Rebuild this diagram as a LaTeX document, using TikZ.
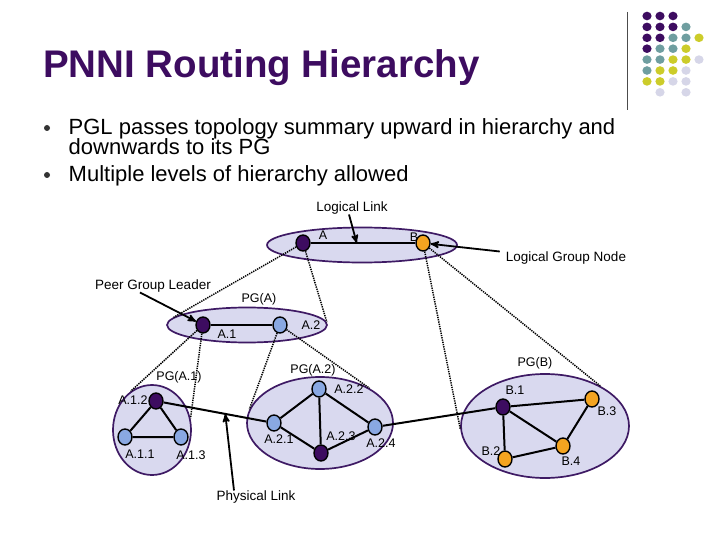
\documentclass[tikz,border=0pt]{standalone}
\usepackage{fontspec}
\setmainfont{Liberation Sans}
\usetikzlibrary{shapes.geometric,arrows,positioning}
\definecolor{pnnipurple}{HTML}{3D0C60}
\definecolor{pnniborder}{HTML}{3E1A64}
\definecolor{pnnilav}{HTML}{D9D9EF}
\definecolor{pnniblue}{HTML}{89A8E2}
\definecolor{pnniorange}{HTML}{F4A420}
\definecolor{pnniteal}{HTML}{6F9EA0}
\definecolor{pnniyellow}{HTML}{CCCC2A}
\definecolor{pnnilight}{HTML}{D6D6E8}
\tikzset
{
    groupnode/.style = {ellipse, draw=pnniborder, fill=pnnilav, line width=1.7pt, inner sep=0pt},
    switchnode/.style = {ellipse, draw=black, line width=1.4pt, minimum width=14pt, minimum height=16pt, inner sep=0pt},
    leadernode/.style = {switchnode, fill=pnnipurple},
    bluenode/.style = {switchnode, fill=pnniblue},
    orangenode/.style = {switchnode, fill=pnniorange},
    lbl/.style = {font=\fontsize{12.5}{14}\selectfont, inner sep=0pt},
    note/.style = {font=\fontsize{13.5}{15}\selectfont, inner sep=0pt},
    link/.style = {line width=2pt},
    hier/.style = {line width=1.5pt, dash pattern=on 1.3pt off 1pt},
    pointer/.style = {->, >=stealth', line width=1.8pt}
}
\begin{document}
\begin{tikzpicture}[x=1pt, y=-1pt]
    \useasboundingbox (0,0) rectangle (720,540);
    % header
    \node [anchor=base west, inner sep=0pt, text=pnnipurple, font=\fontsize{38.5}{40}\selectfont\bfseries] (title) at (43,78) {PNNI Routing Hierarchy};
    \draw [line width=0.8pt, black!70] (627,12) -- (627,110);
    \foreach \c/\r/\col in {0/0/pnnipurple, 1/0/pnnipurple, 2/0/pnnipurple,
        0/1/pnnipurple, 1/1/pnnipurple, 2/1/pnnipurple, 3/1/pnniteal,
        0/2/pnnipurple, 1/2/pnnipurple, 2/2/pnniteal, 3/2/pnniteal, 4/2/pnniyellow,
        0/3/pnnipurple, 1/3/pnniteal, 2/3/pnniteal, 3/3/pnniyellow,
        0/4/pnniteal, 1/4/pnniteal, 2/4/pnniyellow, 3/4/pnniyellow, 4/4/pnnilight,
        0/5/pnniteal, 1/5/pnniyellow, 2/5/pnniyellow, 3/5/pnnilight,
        0/6/pnniyellow, 1/6/pnniyellow, 2/6/pnnilight, 3/6/pnnilight,
        1/7/pnnilight, 3/7/pnnilight}
        \fill [\col] (647+13*\c, 16+10.9*\r) ellipse (4.6 and 4.3);
    \fill [black!80] (47,128) circle (3);
    \fill [black!80] (47,175) circle (3);
    \node [anchor=base west, inner sep=0pt, font=\fontsize{22}{22}\selectfont] (item1a) at (68.5,135) {PGL passes topology summary upward in hierarchy and};
    \node [anchor=base west, inner sep=0pt, font=\fontsize{22}{22}\selectfont] (item1b) at (68.5,155) {downwards to its PG};
    \node [anchor=base west, inner sep=0pt, font=\fontsize{22}{22}\selectfont] (item2) at (68.5,182) {Multiple levels of hierarchy allowed};
    % peer groups
    \node [groupnode, minimum width=190pt, minimum height=35pt] (pgtop) at (362,245) {};
    \node [groupnode, minimum width=160pt, minimum height=35pt] (pga) at (247,325) {};
    \node [groupnode, minimum width=78pt, minimum height=90pt] (pga1) at (152,430) {};
    \node [groupnode, minimum width=146pt, minimum height=92pt] (pga2) at (320,423) {};
    \node [groupnode, minimum width=168pt, minimum height=104pt] (pgb) at (545,426) {};
    % switches
    \node [leadernode] (a) at (303,243) {};
    \node [orangenode] (b) at (423,243) {};
    \node [leadernode] (a1) at (203,325) {};
    \node [bluenode] (a2) at (280,325) {};
    \node [leadernode] (a12) at (156,401) {};
    \node [bluenode] (a11) at (125,437) {};
    \node [bluenode] (a13) at (181,437) {};
    \node [bluenode] (a22) at (319,389) {};
    \node [bluenode] (a21) at (274,423) {};
    \node [leadernode] (a23) at (321,453) {};
    \node [bluenode] (a24) at (375,427) {};
    \node [leadernode] (b1) at (503,407) {};
    \node [orangenode] (b3) at (592,399) {};
    \node [orangenode] (b2) at (505,459) {};
    \node [orangenode] (b4) at (563,446) {};
    % labels
    \node [lbl] (la) at (323,235) {A};
    \node [lbl] (lb) at (414,237) {B};
    \node [lbl] (lpga) at (259,299) {PG(A)};
    \node [lbl] (la1) at (227,334) {A.1};
    \node [lbl] (la2) at (311,325) {A.2};
    \node [lbl] (lpga1) at (179,377) {PG(A.1)};
    \node [lbl] (la12) at (133,400) {A.1.2};
    \node [lbl] (la11) at (140,454) {A.1.1};
    \node [lbl] (la13) at (191,455) {A.1.3};
    \node [lbl] (lpga2) at (313,370) {PG(A.2)};
    \node [lbl] (la22) at (349,389) {A.2.2};
    \node [lbl] (la21) at (279,439) {A.2.1};
    \node [lbl] (la23) at (341,436) {A.2.3};
    \node [lbl] (la24) at (381,443) {A.2.4};
    \node [lbl] (lpgb) at (535,363) {PG(B)};
    \node [lbl] (lb1) at (515,390) {B.1};
    \node [lbl] (lb3) at (607,411) {B.3};
    \node [lbl] (lb2) at (491,451) {B.2};
    \node [lbl] (lb4) at (571,461) {B.4};
    \node [note] (loglink) at (352,208) {Logical Link};
    \node [note] (lgn) at (566,258) {Logical Group Node};
    \node [note] (pgl) at (153,286) {Peer Group Leader};
    \node [note] (phl) at (256,497) {Physical Link};
    % hierarchy
    \draw [hier] (a) -- (pga.174);
    \draw [hier] (a) -- (pga.2);
    \draw [hier] (a1) -- (pga1.119);
    \draw [hier] (a1) -- (pga1.17);
    \draw [hier] (a2) -- (pga2.169);
    \draw [hier] (a2) -- (pga2.35);
    \draw [hier] (b) -- (pgb.182);
    \draw [hier] (b) -- (pgb.36);
    % links
    \draw [link] (a) -- coordinate[pos=0.44] (ab) (b);
    \draw [link] (a1) -- (a2);
    \draw [link] (a12) -- (a11) -- (a13) -- (a12);
    \draw [link] (a21) -- (a22) -- (a24) -- (a23) -- (a21);
    \draw [link] (a22) -- (a23);
    \draw [link] (b1) -- (b3) -- (b4) -- (b2) -- (b1);
    \draw [link] (b1) -- (b4);
    \draw [link] (a12) -- coordinate[pos=0.6] (phys) (a21);
    \draw [link] (a24) -- (b1);
    % pointers
    \draw [pointer] ([xshift=-3pt]loglink.south) -- (ab);
    \draw [pointer] ([xshift=-6pt]lgn.north west) -- (b);
    \draw [pointer] ([xshift=-13pt]pgl.south) -- (a1);
    \draw [pointer] ([xshift=-22pt]phl.north) -- (phys);
\end{tikzpicture}
\end{document}
